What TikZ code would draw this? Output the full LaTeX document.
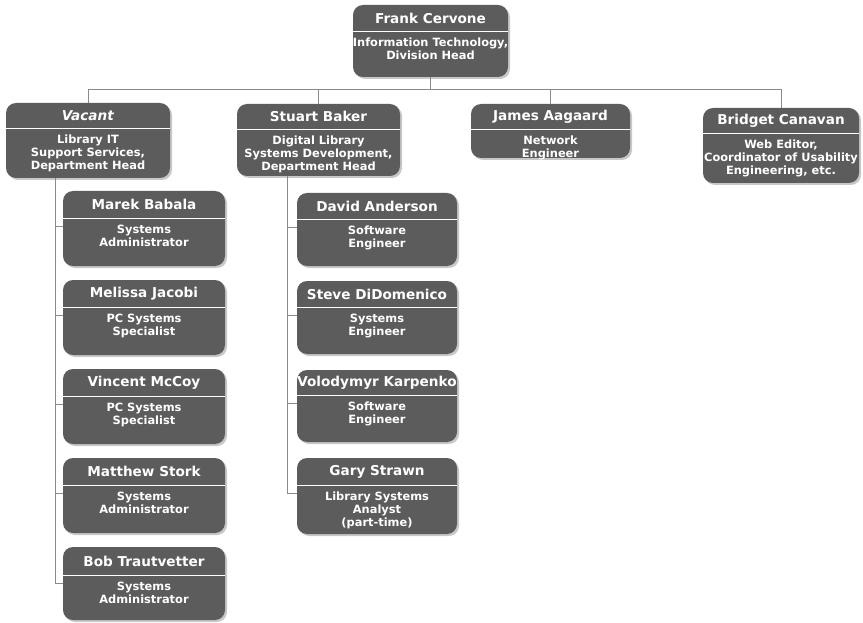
\documentclass[tikz,border=0pt]{standalone}
\usepackage{fontspec}
\setmainfont{DejaVu Sans}
\newfontfamily\namefont{DejaVu Sans}
\newfontfamily\titlefont{DejaVu Sans}
\usetikzlibrary{fit,shadows}
\definecolor{boxgray}{HTML}{5C5C5C}
\definecolor{linegray}{HTML}{8A8A8A}
\definecolor{shadowgray}{HTML}{C8C8C8}
\tikzset{
  orgbg/.style={rectangle, rounded corners=10pt, fill=boxgray, inner sep=0pt, draw=none,
    drop shadow={shadow xshift=2pt, shadow yshift=-2pt, fill=shadowgray, opacity=1}},
  divline/.style={white, line width=0.7pt},
  nametext/.style={text=white, inner sep=0pt, font=\namefont\bfseries\fontsize{13.6}{15}\selectfont},
  titletext/.style={anchor=north, text=white, align=center, inner sep=0pt,
    font=\titlefont\bfseries\fontsize{11.4}{13.3}\selectfont},
  conn/.style={linegray, line width=0.7pt}
}
\newcommand\orgbox[8]{%
  \node[orgbg, fit={(#2,#3) (#4,#5)}] (#1) {};
  \draw[divline] (#2,#6) -- (#4,#6);
  \node[nametext] (#1-n) at ({(#2+#4)/2},{(#3+#6)/2}) {#7};
  \node[titletext] (#1-t) at ({(#2+#4)/2},{#6+6.5}) {#8};
  \coordinate (#1-k) at (#2,{#6+8});
}
\begin{document}
\begin{tikzpicture}[x=1pt,y=-1pt]
\useasboundingbox[fill=white] (0,0) rectangle (863,623);
% top level
\orgbox{frank}{353}{5}{508}{77}{31}{Frank Cervone}{Information Technology,\\Division Head}
% second row
\orgbox{vacant}{6}{103}{170}{178}{128}{\textit{Vacant}}{Library IT\\Support Services,\\Department Head}
\orgbox{stuart}{237}{104}{400}{176}{129}{Stuart Baker}{Digital Library\\Systems Development,\\Department Head}
\orgbox{james}{471}{104}{630}{158}{129}{James Aagaard}{Network\\Engineer}
\orgbox{bridget}{703}{108}{859}{183}{133}{Bridget Canavan}{Web Editor,\\Coordinator of Usability\\Engineering, etc.}
% Vacant's group
\orgbox{marek}{63}{191}{225}{266}{218}{Marek Babala}{Systems\\Administrator}
\orgbox{melissa}{63}{280}{225}{355}{307}{Melissa Jacobi}{PC Systems\\Specialist}
\orgbox{vincent}{63}{369}{225}{444}{396}{Vincent McCoy}{PC Systems\\Specialist}
\orgbox{matthew}{63}{458}{225}{533}{485}{Matthew Stork}{Systems\\Administrator}
\orgbox{bob}{63}{547}{225}{620}{575}{Bob Trautvetter}{Systems\\Administrator}
% Stuart's group
\orgbox{david}{297}{193}{457}{266}{219}{David Anderson}{Software\\Engineer}
\orgbox{steve}{297}{281}{457}{354}{307}{Steve DiDomenico}{Systems\\Engineer}
\orgbox{volodymyr}{297}{370}{457}{442}{395}{Volodymyr Karpenko}{Software\\Engineer}
\orgbox{gary}{297}{458}{457}{534}{485}{Gary Strawn}{Library Systems\\Analyst\\(part-time)}
% connectors
\coordinate (bus) at (0,89);
\draw[conn] (frank.south) -- (frank.south |- bus);
\draw[conn] (vacant.north) -- (vacant.north |- bus) -- (bridget.north |- bus) -- (bridget.north);
\draw[conn] (stuart.north) -- (stuart.north |- bus);
\draw[conn] (james.north) -- (james.north |- bus);
\coordinate (vl) at (55,0);
\draw[conn] (vacant.south -| vl) -- (bob-k -| vl);
\foreach \c in {marek,melissa,vincent,matthew,bob}{\draw[conn] (\c-k -| vl) -- (\c-k);}
\coordinate (sl) at (287,0);
\draw[conn] (stuart.south -| sl) -- (gary-k -| sl);
\foreach \c in {david,steve,volodymyr,gary}{\draw[conn] (\c-k -| sl) -- (\c-k);}
\end{tikzpicture}
\end{document}
